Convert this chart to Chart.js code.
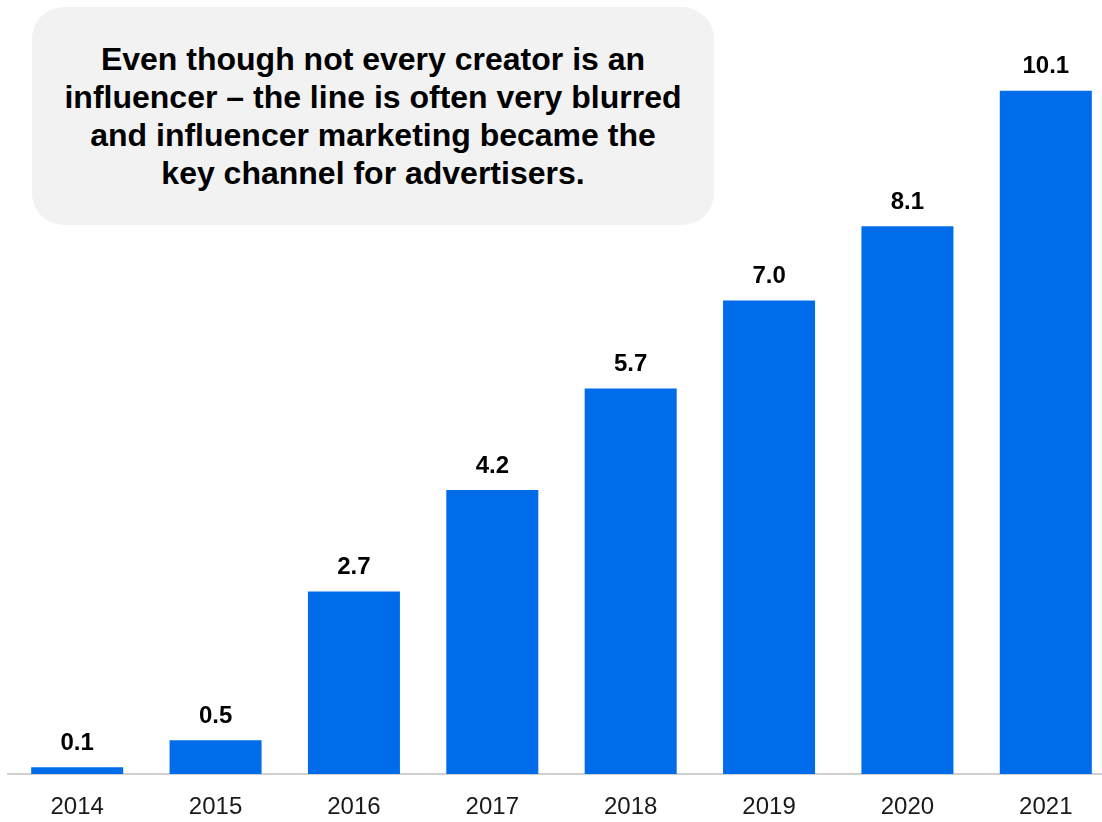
<!DOCTYPE html>
<html>
<head>
<meta charset="utf-8">
<script src="https://cdn.jsdelivr.net/npm/chart.js@4.4.1/dist/chart.umd.min.js"></script>
<style>
    html, body { margin: 0; padding: 0; background: #fff; overflow: hidden; }
    #wrap { position: relative; width: 1102px; height: 822px; overflow: hidden; }
    #chart { position: absolute; left: 0; top: 0; }
    .note {
        position: absolute; left: 32px; top: 7px; width: 682px; height: 218px;
        border-radius: 32px; background: #f2f2f2;
        display: flex; align-items: center; justify-content: center; text-align: center;
        font: bold 32px "Liberation Sans", Arial, sans-serif; line-height: 38px; color: #000;
    }
</style>
</head>
<body>
<div id="wrap">
    <canvas id="chart" width="1116" height="822"></canvas>
    <div class="note">Even though not every creator is an<br>influencer – the line is often very blurred<br>and influencer marketing became the<br>key channel for advertisers.</div>
</div>
<script>
const YEARS  = [ '2014', '2015', '2016', '2017', '2018', '2019', '2020', '2021' ];
const VALUES = [ 0.1, 0.5, 2.7, 4.2, 5.7, 7.0, 8.1, 10.1 ];

const BLUE = '#006cea';
const FONT = '"Liberation Sans", Arial, sans-serif';

// value above each bar
const barLabels = {
    id: 'barLabels',
    afterDatasetsDraw( chart ) {
        const { ctx } = chart;
        const meta = chart.getDatasetMeta( 0 );
        ctx.save();
        ctx.font = 'bold 24px ' + FONT;
        ctx.fillStyle = '#000';
        ctx.textAlign = 'center';
        ctx.textBaseline = 'middle';
        meta.data.forEach( ( bar, i ) => {
            ctx.fillText( VALUES[ i ].toFixed( 1 ), bar.x, bar.y - 24 );
        } );
        ctx.restore();
    },
};

new Chart( document.getElementById( 'chart' ), {
    type: 'bar',
    data: {
        labels: YEARS,
        datasets: [ {
            data: VALUES,
            backgroundColor: BLUE,
            categoryPercentage: 1,
            barPercentage: 0.665,
        } ],
    },
    options: {
        responsive: false,
        animation: false,
        events: [],
        layout: { padding: { left: 8, right: 1, top: 30, bottom: 0 } },
        plugins: { legend: { display: false }, tooltip: { enabled: false } },
        scales: {
            x: {
                grid: { display: false },
                border: { color: '#d0d0d0', width: 2 },
                ticks: { color: '#1a1a1a', font: { family: FONT, size: 24 }, padding: 11 },
                afterFit( scale ) { scale.height = 48; },
            },
            y: {
                display: false,
                min: 0,
                max: 11,
            },
        },
    },
    plugins: [ barLabels ],
} );
</script>
</body>
</html>
